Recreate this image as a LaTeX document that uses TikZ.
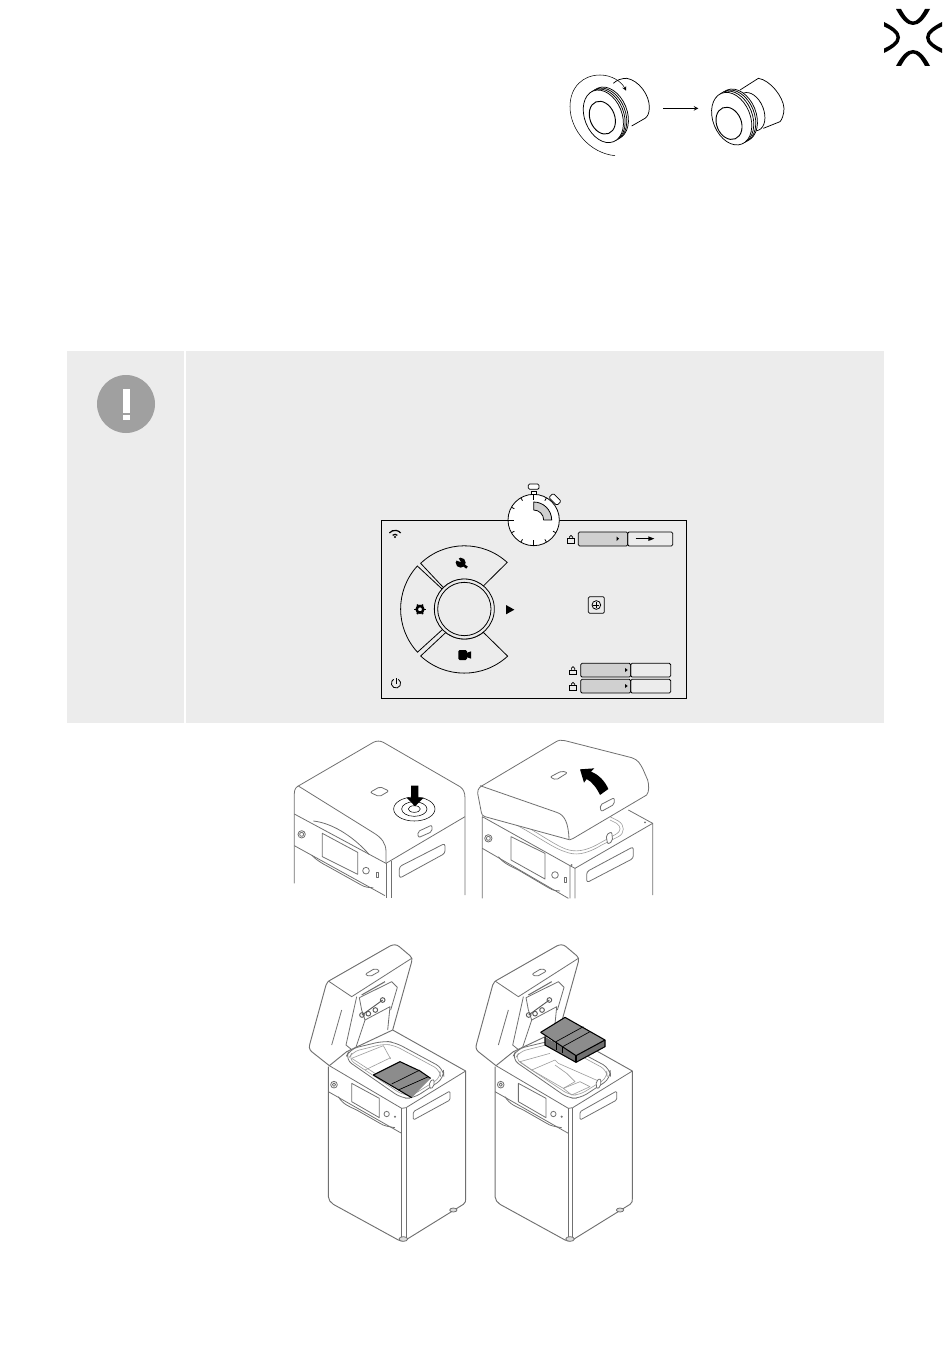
\documentclass[tikz,border=0pt]{standalone}
\definecolor{panelgray}{HTML}{ECECEC}
\definecolor{badgegray}{HTML}{A0A0A0}
\definecolor{linegray}{HTML}{707070}
\definecolor{softgray}{HTML}{D0D0D0}
\definecolor{traygray}{HTML}{8C8C8C}
\tikzset{
  knobline/.style={black,line width=0.55pt},
  screenline/.style={black,line width=0.6pt},
  printerline/.style={linegray,line width=0.6pt,line join=round},
  softline/.style={linegray!70,line width=0.45pt,line join=round},
  darkline/.style={black,line width=0.8pt,line join=round},
  lockbody/.style={black,line width=0.5pt},
  tiptri/.style={fill=black,draw=none}
}
\begin{document}
\begin{tikzpicture}[x=0.75pt,y=-0.75pt]
    \useasboundingbox (0,0) rectangle (950,1369);

    % corner mark
    \begin{scope}[shift={(913,37.5)}]
      \foreach \sy in {1,-1} {
        \fill[black] (-17,-28.5*\sy) .. controls (-11.5,-18*\sy) and (-6,-12.5*\sy) .. (0,-12.5*\sy) .. controls (6,-12.5*\sy) and (11.5,-18*\sy) .. (17,-28.5*\sy) -- (12,-28.5*\sy) .. controls (8,-21*\sy) and (4,-16*\sy) .. (0,-16*\sy) .. controls (-4,-16*\sy) and (-8,-21*\sy) .. (-12,-28.5*\sy) -- cycle;
        \fill[black] (-29*\sy,-15.5) .. controls (-20*\sy,-11) and (-13*\sy,-6) .. (-13*\sy,0) .. controls (-13*\sy,6) and (-20*\sy,11) .. (-29*\sy,15.5) -- (-29*\sy,11) .. controls (-22*\sy,8) and (-16.5*\sy,4) .. (-16.5*\sy,0) .. controls (-16.5*\sy,-4) and (-22*\sy,-8) .. (-29*\sy,-11) -- cycle;
      }
    \end{scope}

    % knobs, turned and loose
    \begin{scope}[shift={(550,0)},x=0.25pt,y=-0.25pt]
      \draw[knobline] (190,250) .. controls (200,240) and (215,235) .. (230,235) .. controls (265,240) and (300,285) .. (298,325) .. controls (297,340) and (293,350) .. (285,355) -- (245,378);
      \foreach \cx/\cy in {175/340,170/343,165/346,160/349}
        \draw[knobline,fill=white,rotate around={22:(\cx,\cy)}] (\cx,\cy) ellipse [x radius=56,y radius=82];
      \draw[knobline,line width=0.7pt,rotate around={22:(157,353)}] (157,353) ellipse [x radius=37,y radius=51];
      \draw[black,line width=0.4pt,-stealth] (195,467) .. controls (120,460) and (60,390) .. (60,320) .. controls (60,260) and (100,225) .. (150,225) .. controls (185,225) and (215,245) .. (228,272);
      \draw[knobline,-stealth] (340,325) -- (445,325);
      \draw[knobline] (570,270) -- (625,235) .. controls (660,240) and (700,290) .. (702,325) .. controls (702,345) and (695,360) .. (690,365) -- (640,385);
      \draw[knobline,fill=white,rotate around={22:(603,335)}] (603,335) ellipse [x radius=38,y radius=60];
      \foreach \cx/\cy in {562/346,557/349,551/352,545/356}
        \draw[knobline,fill=white,rotate around={22:(\cx,\cy)}] (\cx,\cy) ellipse [x radius=56,y radius=82];
      \draw[knobline,line width=0.7pt,rotate around={22:(537,370)}] (537,370) ellipse [x radius=37,y radius=50];
    \end{scope}

    % note panel
    \fill[panelgray] (67,351) rectangle (884,723);
    \fill[white] (184,351) rectangle (186,723);
    \fill[badgegray] (126,404) circle [radius=29];
    \fill[white] (123,389) rectangle (129.5,413);
    \fill[white] (123,414.5) rectangle (129.5,420);

    % control screen
    \begin{scope}[shift={(370,470)},x=0.25pt,y=-0.25pt]
      \draw[screenline] (33,152) rectangle (950,685);
      % stopwatch
      \draw[screenline,fill=white] (491,150) circle [radius=77];
      \draw[screenline,fill=white] (485,63) rectangle (499,74);
      \draw[screenline,fill=white,rounded corners=1pt] (475,42) rectangle (507,58);
      \draw[screenline,fill=white,rounded corners=1pt,rotate around={-45:(555,88)}] (538,79) rectangle (572,97);
      \foreach \a in {-150,-120,-60,30,60,120,150}
        \draw[screenline] (491,150) ++(\a:77) -- ++(\a:-10);
      \foreach \a in {-90,90,180}
        \draw[screenline] (491,150) ++(\a:77) -- ++(\a:-18);
      \draw[screenline,fill=softgray] (491,96) arc [start angle=-90,end angle=0,radius=54] -- (521,150) arc [start angle=0,end angle=-90,radius=30] -- cycle;
      % dial
      \begin{scope}[shift={(283,417)}]
        \draw[screenline] (-131,-137) arc [start angle=-133.7,end angle=-47.5,radius=190] -- (57,-69) arc [start angle=-50.4,end angle=-134,radius=90] -- cycle;
        \draw[screenline] (-141,-129) arc [start angle=-137.5,end angle=-222.7,radius=191] -- (-65,61) arc [start angle=-223.2,end angle=-138,radius=89] -- cycle;
        \draw[screenline] (-131,141) arc [start angle=132.9,end angle=47.3,radius=192] -- (57,70) arc [start angle=50.8,end angle=128.5,radius=90] -- cycle;
        \draw[screenline,fill=panelgray] (0,0) circle [radius=90];
        \draw[screenline] (0,0) circle [radius=80];
      \end{scope}
      % wrench
      \fill[black] (272,278) circle [radius=15];
      \draw[black,line width=1.9pt] (272,278) -- (291,293);
      \fill[panelgray] (262,258) -- (272,276) -- (256,270) -- cycle;
      % gear
      \fill[black,even odd rule] (150,418) circle [radius=14] (150,418) circle [radius=6];
      \foreach \a in {0,60,...,300}
        \fill[black] (150,418) ++(\a-12:12) -- ++(\a:5) -- ++(\a+90:5) -- ++(\a:-5) -- cycle;
      % camera
      \fill[black,rounded corners=1pt] (265,540) rectangle (291,570);
      \fill[black] (289,549) -- (303,544) -- (303,566) -- (289,561) -- cycle;
      \fill[tiptri] (408,405) -- (433,419) -- (408,433) -- cycle;
      % wifi and power
      \draw[black,line width=0.9pt] (75,203) ++(-135:10) arc [start angle=-135,end angle=-45,radius=10];
      \draw[black,line width=0.9pt] (75,203) ++(-140:22) arc [start angle=-140,end angle=-40,radius=22];
      \fill[black] (75,201) circle [radius=3.5];
      \draw[screenline] (78,640) ++(-60:14) arc [start angle=-60,end angle=240,radius=14];
      \draw[screenline] (78,625) -- (78,641);
      % zoom button
      \draw[screenline,rounded corners=1pt] (655,380) rectangle (703,430);
      \draw[screenline] (679,405) circle [radius=13];
      \draw[screenline] (670,405) -- (688,405);
      \draw[screenline] (679,396) -- (679,414);
      % level bars
      \draw[screenline,fill=softgray,rounded corners=1pt] (625,186) rectangle (773,228);
      \draw[screenline,rounded corners=1pt] (773,186) rectangle (908,228);
      \foreach \ty in {580,628} {
        \draw[screenline,fill=softgray,rounded corners=1pt] (632,\ty) rectangle (782,\ty+41);
        \draw[screenline,rounded corners=1pt] (782,\ty) rectangle (902,\ty+41);
        \fill[tiptri] (765,\ty+14) -- (773,\ty+20) -- (765,\ty+26) -- cycle;
      }
      \fill[tiptri] (740,200) -- (747,206) -- (740,213) -- cycle;
      \draw[screenline] (797,206) -- (840,206);
      \fill[tiptri] (835,199) -- (853,206) -- (835,213) -- cycle;
      % locks
      \foreach \lx/\ly in {603/220,609/614,609/661} {
        \draw[lockbody] (\lx-10,\ly-14) rectangle (\lx+10,\ly);
        \draw[lockbody] (\lx-5,\ly-14) -- (\lx-5,\ly-19) arc [start angle=180,end angle=360,radius=5] -- (\lx+5,\ly-14);
      }
    \end{scope}

    % closed lid, pressed
    \begin{scope}[shift={(285,735)},x=0.25pt,y=-0.25pt]
      \draw[printerline] (28,445) -- (28,175) .. controls (28,160) and (35,155) .. (45,150) -- (265,22) .. controls (275,17) and (285,17) .. (295,22) -- (525,155) .. controls (535,162) and (540,172) .. (540,190) -- (540,480);
      \draw[printerline] (40,153) -- (265,293) .. controls (290,308) and (303,325) .. (303,350) -- (303,385);
      \draw[printerline] (28,237) -- (303,385) -- (540,245);
      \draw[printerline] (85,258) .. controls (150,265) and (215,315) .. (252,358);
      \draw[printerline] (303,385) -- (303,490);
      \draw[printerline] (318,378) -- (318,490);
      \draw[printerline] (28,332) -- (300,482);
      \draw[printerline] (80,360) .. controls (90,372) and (110,385) .. (130,395) -- (225,448) .. controls (240,458) and (255,458) .. (265,458);
      \draw[printerline] (112,295) -- (218,352) -- (218,418) -- (112,365) -- cycle;
      \draw[printerline] (50,298) circle [radius=11];
      \draw[printerline] (50,298) circle [radius=6];
      \draw[printerline] (243,407) circle [radius=10];
      \draw[printerline] (274,413) rectangle (280,428);
      \draw[printerline,rounded corners=2pt] (343,395) -- (480,325) -- (480,355) -- (343,430) -- cycle;
      \draw[printerline,rounded corners=1.5pt] (255,172) -- (285,155) -- (312,168) -- (283,185) -- cycle;
      \draw[printerline,rounded corners=1.5pt] (398,290) -- (441,270) -- (441,290) -- (400,308) -- cycle;
      \foreach \rx/\ry in {62/36,38/22,18/10}
        \draw[black,line width=0.4pt] (388,222) ellipse [x radius=\rx,y radius=\ry];
      \fill[black] (378,152) -- (400,152) -- (400,188) -- (416,188) -- (390,214) -- (365,188) -- (378,188) -- cycle;
      % lid raised
      \draw[printerline] (592,490) -- (592,245) -- (855,392) -- (855,490);
      \draw[printerline] (870,490) -- (870,400) -- (1103,265) -- (1103,480);
      \draw[printerline] (855,392) -- (870,400);
      \draw[printerline] (1103,265) -- (1030,225);
      \draw[printerline] (592,340) -- (850,490);
      \draw[printerline] (640,365) .. controls (655,385) and (680,395) .. (700,405) -- (790,458) .. controls (805,467) and (815,468) .. (825,468);
      \draw[printerline] (678,305) -- (780,355) -- (780,432) -- (678,375) -- cycle;
      \draw[printerline] (610,310) circle [radius=11];
      \draw[printerline] (610,310) circle [radius=6];
      \draw[printerline] (810,420) circle [radius=10];
      \draw[printerline] (837,426) rectangle (843,441);
      \draw[printerline,rounded corners=2pt] (905,410) -- (1045,335) -- (1045,370) -- (905,443) -- cycle;
      \fill[linegray] (860,390) circle [radius=3];
      \fill[linegray] (1080,262) circle [radius=3];
      \draw[softline] (640,250) .. controls (700,260) and (790,335) .. (840,350) .. controls (870,362) and (900,360) .. (950,330) -- (1000,305) .. controls (1020,295) and (1020,270) .. (1000,258) -- (975,245);
      \draw[softline] (650,243) .. controls (710,255) and (795,325) .. (842,342) .. controls (870,352) and (900,350) .. (945,324) -- (992,298) .. controls (1010,288) and (1008,275) .. (995,265) -- (975,255);
      \draw[printerline,fill=white,rounded corners=1.5pt] (963,300) -- (980,290) -- (983,318) -- (968,328) -- cycle;
      \draw[printerline,fill=white] (578,175) .. controls (578,160) and (585,155) .. (595,150) -- (810,22) .. controls (820,15) and (830,14) .. (840,17) -- (1040,68) .. controls (1060,75) and (1065,85) .. (1075,105) -- (1088,135) .. controls (1092,150) and (1093,170) .. (1085,180) -- (865,310) .. controls (858,315) and (850,316) .. (845,312) -- (600,245) .. controls (592,243) and (590,238) .. (589,232) -- cycle;
      \draw[printerline] (585,152) -- (815,232) .. controls (840,240) and (850,265) .. (852,312);
      \draw[printerline,rounded corners=1.5pt] (795,126) -- (830,108) -- (848,113) -- (813,135) -- cycle;
      \draw[printerline,rounded corners=1.5pt] (945,210) -- (988,188) -- (988,208) -- (948,230) -- cycle;
      \fill[black] (945,180) .. controls (935,158) and (920,140) .. (905,132) -- (897,143) -- (885,103) -- (928,100) -- (918,110) .. controls (940,118) and (960,138) .. (970,162) -- cycle;
    \end{scope}

    % open printers
    \foreach \sx in {0,166.7} {
      \begin{scope}[shift={(300+\sx,935)},x=0.25pt,y=-0.25pt]
        \draw[printerline,line width=0.7pt] (85,395) -- (85,785) .. controls (85,795) and (92,802) .. (100,808) -- (295,915) .. controls (305,920) and (315,918) .. (322,912) -- (490,808) .. controls (497,803) and (497,798) .. (497,790) -- (497,408) -- (278,285);
        \draw[printerline] (88,392) -- (305,520);
        \draw[printerline] (318,518) -- (497,408);
        \draw[printerline] (305,520) -- (318,518);
        \draw[printerline] (305,520) -- (305,905);
        \draw[printerline] (318,518) -- (318,905);
        \draw[printerline] (85,470) -- (305,595);
        \draw[printerline] (115,485) .. controls (130,510) and (150,515) .. (170,525) -- (240,565) .. controls (250,572) and (265,575) .. (285,578);
        \draw[printerline,fill=linegray!25] (310,912) ellipse [x radius=13,y radius=7];
        \draw[printerline,fill=linegray!25] (460,825) ellipse [x radius=11,y radius=6];
        \draw[printerline,rounded corners=1pt] (340,530) -- (450,468) -- (450,495) -- (340,555) -- cycle;
        \draw[printerline] (155,445) -- (238,490) -- (238,548) -- (155,500) -- cycle;
        \draw[printerline] (102,449) circle [radius=10];
        \draw[printerline] (102,449) circle [radius=5];
        \draw[printerline] (260,537) circle [radius=8];
        \fill[linegray] (285,545) circle [radius=3.5];
        % lid
        \draw[printerline,line width=0.7pt,fill=white] (88,392) -- (35,350) .. controls (27,343) and (27,335) .. (30,325) -- (78,150) .. controls (80,143) and (85,138) .. (95,133) -- (270,33) .. controls (280,28) and (290,28) .. (298,35) -- (330,62) .. controls (336,68) and (337,72) .. (335,80) -- (278,285) -- (140,350) -- cycle;
        \draw[printerline] (85,138) -- (155,185) -- (335,70);
        \draw[printerline] (170,185) -- (138,330) -- (160,348);
        \draw[printerline] (125,225) .. controls (115,260) and (105,295) .. (95,330);
        \draw[printerline,rounded corners=1.5pt] (195,118) -- (225,100) -- (240,108) -- (210,125) -- cycle;
        \draw[printerline] (178,188) -- (275,140) -- (292,157) -- (272,225);
        \draw[printerline] (178,188) -- (185,225) -- (195,255) -- (270,215) -- (263,285);
        \draw[printerline] (195,255) -- (165,345);
        \draw[printerline,line width=0.8pt] (185,180) -- (255,140);
        \foreach \hx/\hy in {186/240,205/236,226/225,248/195}
          \draw[linegray!80!black,line width=0.7pt] (\hx,\hy) circle [radius=7];
        \draw[linegray!80!black,line width=0.7pt] (186,240) -- (248,195);
        % tub rim
        \draw[printerline,fill=white,rounded corners=6pt] (135,372) -- (150,342) -- (250,318) -- (285,322) -- (430,400) -- (432,430) -- (340,490) -- (305,490) -- cycle;
        \draw[softline,rounded corners=5pt] (145,372) -- (158,350) -- (250,327) -- (283,331) -- (420,405) -- (422,428) -- (338,480) -- (308,480) -- cycle;
      \end{scope}
    }

    % tray in the tub
    \begin{scope}[shift={(300,935)},x=0.25pt,y=-0.25pt]
      \draw[softline] (155,370) -- (250,332) -- (272,372);
      \draw[softline] (195,405) -- (272,368);
      \draw[softline] (155,370) -- (225,415);
      \fill[traygray] (220,420) -- (300,380) -- (360,408) -- (392,430) -- (335,488) -- cycle;
      \draw[darkline] (220,420) -- (300,380) -- (360,408) -- (392,430);
      \draw[darkline] (220,420) -- (335,488);
      \draw[black,line width=0.5pt] (275,447) -- (360,405);
      \draw[black,line width=0.5pt] (295,465) -- (385,425);
      \draw[printerline,fill=white,rounded corners=1.5pt] (388,440) -- (402,432) -- (402,455) -- (390,462) -- cycle;
    \end{scope}

    % tray lifted out
    \begin{scope}[shift={(470,935)},x=0.25pt,y=-0.25pt]
      \draw[softline] (185,405) -- (255,375) -- (265,385) -- (390,440);
      \draw[softline] (185,405) -- (280,460) -- (315,440) -- (290,415) -- (255,390);
      \draw[softline] (280,460) -- (305,480) -- (360,455) -- (330,440) -- (280,460);
      \draw[softline] (150,380) -- (240,355);
      \draw[softline] (150,380) -- (185,405);
      \draw[printerline,fill=white,rounded corners=1.5pt] (378,438) -- (392,430) -- (392,455) -- (380,462) -- cycle;
      \fill[traygray!80!black] (225,305) -- (225,330) -- (318,382) -- (405,335) -- (405,315) -- (318,362) -- cycle;
      \fill[traygray] (212,292) -- (285,247) -- (405,315) -- (318,362) -- cycle;
      \draw[darkline] (212,292) -- (285,247) -- (405,315) -- (405,335) -- (318,382) -- (225,330) -- (225,305);
      \draw[darkline] (212,292) -- (318,362) -- (405,315);
      \draw[darkline] (318,362) -- (318,382);
      \draw[black,line width=0.5pt] (258,320) -- (340,275);
      \draw[black,line width=0.5pt] (278,335) -- (360,290);
      \draw[black,line width=0.5pt] (258,320) -- (258,345);
      \draw[black,line width=0.5pt] (278,335) -- (278,355);
    \end{scope}
\end{tikzpicture}
\end{document}
